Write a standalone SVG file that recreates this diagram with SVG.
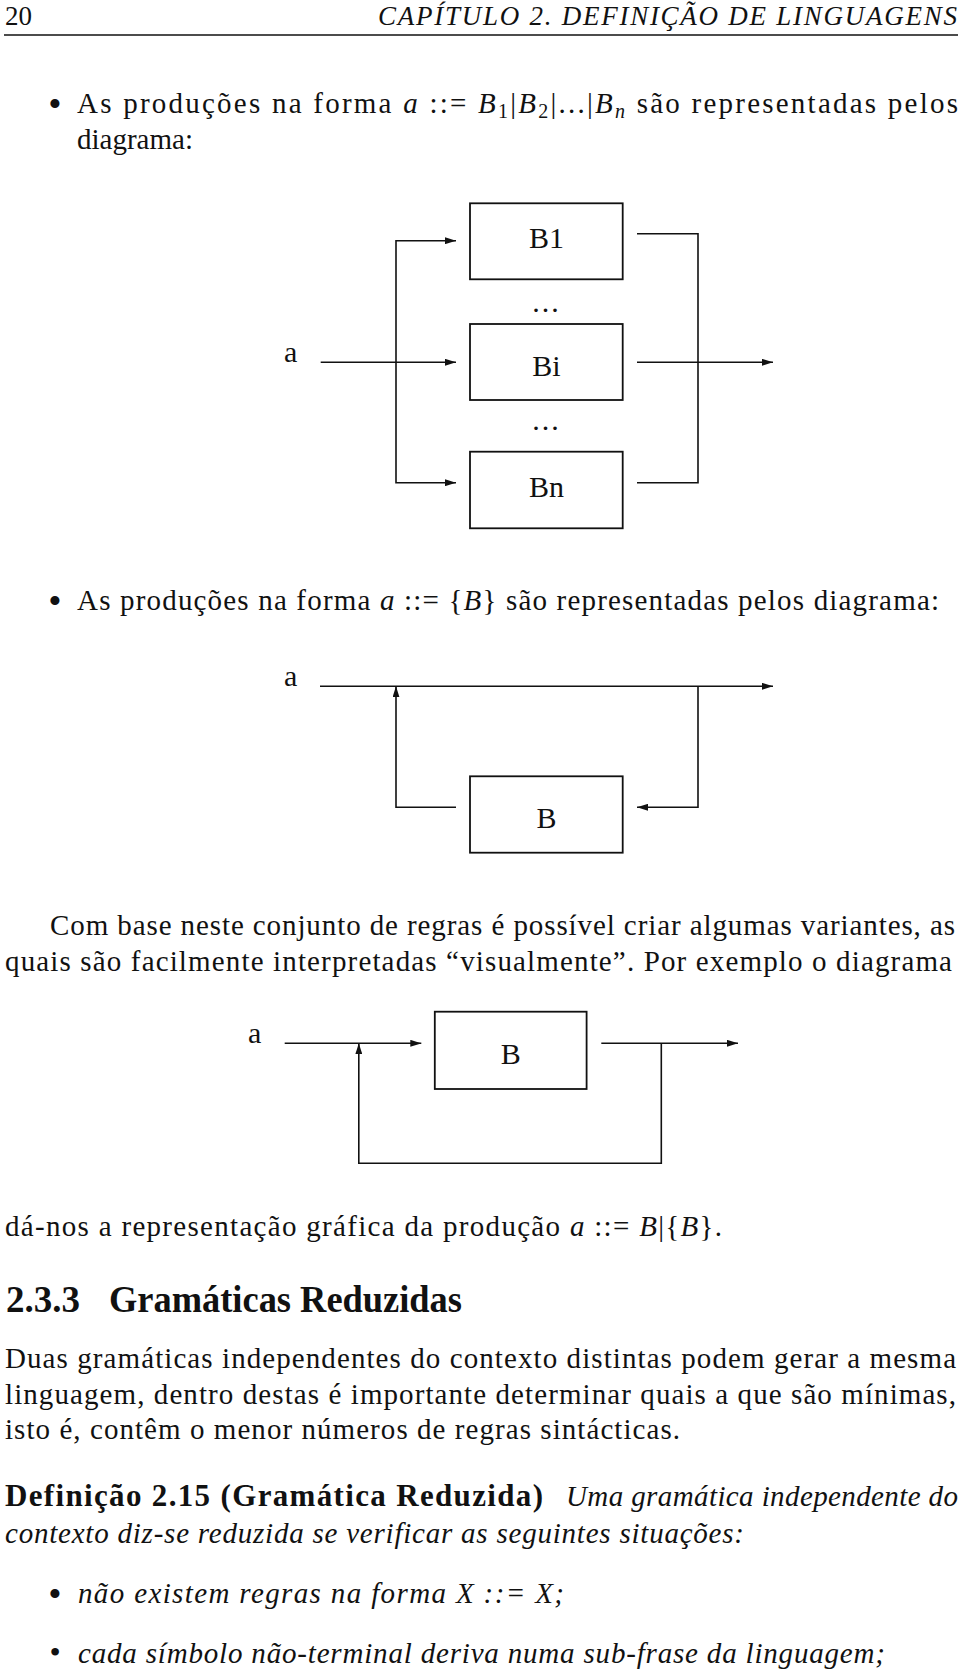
<svg xmlns="http://www.w3.org/2000/svg" width="960" height="1670" viewBox="0 0 960 1670">
<style>
text{font-family:"Liberation Serif","Times New Roman",serif;fill:#111;font-size:29px}
.it{font-style:italic}
.bf{font-weight:bold}
.hd{font-size:27px}
.h2{font-size:37px}
.df{font-size:31px}
.lbl{font-size:30px}
.dots{font-size:30px;letter-spacing:2px}
.bul{font-size:38px}
.bul2{font-size:32px}
.box{fill:#fff;stroke:#111;stroke-width:1.8}
.ln{fill:none;stroke:#111;stroke-width:1.6}
.sub{font-size:20px}
</style>
<defs>
<marker id="arr" markerUnits="userSpaceOnUse" markerWidth="11" markerHeight="7" refX="11" refY="3.5" orient="auto">
<path d="M0,0 L11,3.5 L0,7 z" fill="#111"/>
</marker>
</defs>
<rect width="960" height="1670" fill="#fff"/>

<g id="header">
<text x="5" y="25" class="hd">20</text>
<text x="378" y="25" class="it hd" textLength="579" lengthAdjust="spacing">CAPÍTULO 2.  DEFINIÇÃO DE LINGUAGENS</text>
<line x1="4" y1="35" x2="958" y2="35" stroke="#111" stroke-width="1.5"/>
</g>

<g id="bullet1-text">
<text x="55" y="117" text-anchor="middle" class="bul">•</text>
<text x="77" y="113" textLength="881" lengthAdjust="spacing">As produções na forma <tspan class="it">a</tspan> ::= <tspan class="it">B</tspan><tspan class="sub" dy="5">1</tspan><tspan dy="-5">|</tspan><tspan class="it">B</tspan><tspan class="sub" dy="5">2</tspan><tspan dy="-5">|...|</tspan><tspan class="it">B</tspan><tspan class="sub it" dy="5">n</tspan><tspan dy="-5"> são representadas pelos</tspan></text>
<text x="77" y="149">diagrama:</text>
</g>

<g id="diagram1">
<g id="d1-a"><text x="284" y="362" class="lbl">a</text></g>
<g id="d1-B1"><rect class="box" x="470" y="203.3" width="152.7" height="76"/><text x="546.5" y="248" class="lbl" text-anchor="middle">B1</text></g>
<g id="d1-dots1"><text x="546.5" y="312" class="dots" text-anchor="middle">...</text></g>
<g id="d1-Bi"><rect class="box" x="470" y="324" width="152.7" height="76"/><text x="546.5" y="376" class="lbl" text-anchor="middle">Bi</text></g>
<g id="d1-dots2"><text x="546.5" y="430" class="dots" text-anchor="middle">...</text></g>
<g id="d1-Bn"><rect class="box" x="470" y="451.7" width="152.7" height="76.6"/><text x="546.5" y="496.5" class="lbl" text-anchor="middle">Bn</text></g>
</g>

<g id="bullet2-text">
<text x="55" y="614" text-anchor="middle" class="bul">•</text>
<text x="77" y="610" textLength="862" lengthAdjust="spacing">As produções na forma <tspan class="it">a</tspan> ::= {<tspan class="it">B</tspan>} são representadas pelos diagrama:</text>
</g>

<g id="diagram2">
<g id="d2-a"><text x="284" y="686" class="lbl">a</text></g>
<g id="d2-B"><rect class="box" x="470" y="776.3" width="152.7" height="76.4"/><text x="546.5" y="828" class="lbl" text-anchor="middle">B</text></g>
</g>

<g id="paragraph1">
<text x="50" y="935" textLength="905" lengthAdjust="spacing">Com base neste conjunto de regras é possível criar algumas variantes, as</text>
<text x="5" y="971" textLength="947" lengthAdjust="spacing">quais são facilmente interpretadas “visualmente”. Por exemplo o diagrama</text>
</g>

<g id="diagram3">
<g id="d3-a"><text x="248" y="1043" class="lbl">a</text></g>
<g id="d3-B"><rect class="box" x="434.8" y="1011.7" width="151.8" height="77.3"/><text x="510.7" y="1064" class="lbl" text-anchor="middle">B</text></g>
</g>

<g id="paragraph2">
<text x="5" y="1236" textLength="717" lengthAdjust="spacing">dá-nos a representação gráfica da produção <tspan class="it">a</tspan> ::= <tspan class="it">B</tspan>|{<tspan class="it">B</tspan>}.</text>
</g>

<g id="section">
<text x="6" y="1312" class="bf h2">2.3.3</text>
<text x="109" y="1312" class="bf h2" textLength="353" lengthAdjust="spacingAndGlyphs">Gramáticas Reduzidas</text>
<text x="5" y="1368" textLength="951" lengthAdjust="spacing">Duas gramáticas independentes do contexto distintas podem gerar a mesma</text>
<text x="5" y="1404" textLength="951" lengthAdjust="spacing">linguagem, dentro destas é importante determinar quais a que são mínimas,</text>
<text x="5" y="1439" textLength="675" lengthAdjust="spacing">isto é, contêm o menor números de regras sintácticas.</text>
</g>

<g id="definition">
<text x="5" y="1506" class="bf df" textLength="538" lengthAdjust="spacing">Definição 2.15 (Gramática Reduzida)</text>
<text x="566" y="1506" class="it" textLength="392" lengthAdjust="spacing">Uma gramática independente do</text>
<text x="5" y="1543" class="it" textLength="739" lengthAdjust="spacing">contexto diz-se reduzida se verificar as seguintes situações:</text>
<text x="55" y="1607" text-anchor="middle" class="bul">•</text>
<text x="78" y="1603" class="it" textLength="486" lengthAdjust="spacing">não existem regras na forma X ::= X;</text>
<text x="55" y="1663" text-anchor="middle" class="bul2">•</text>
<text x="78" y="1663" class="it" textLength="807" lengthAdjust="spacing">cada símbolo não-terminal deriva numa sub-frase da linguagem;</text>
</g>

<g id="connectors">
<path class="ln" d="M320.7,362.3 H456" marker-end="url(#arr)"/>
<path class="ln" d="M396,362.3 V240.7 H456" marker-end="url(#arr)"/>
<path class="ln" d="M396,362.3 V482.7 H456" marker-end="url(#arr)"/>
<path class="ln" d="M637,233.7 H698 V482.7 H637"/>
<path class="ln" d="M637,362.3 H773" marker-end="url(#arr)"/>
<path class="ln" d="M320,686.3 H773" marker-end="url(#arr)"/>
<path class="ln" d="M456,807.3 H396 V686.3" marker-end="url(#arr)"/>
<path class="ln" d="M698,686.3 V807.3 H637" marker-end="url(#arr)"/>
<path class="ln" d="M284.7,1043.3 H421.3" marker-end="url(#arr)"/>
<path class="ln" d="M601.3,1043.3 H738" marker-end="url(#arr)"/>
<path class="ln" d="M661.3,1043.3 V1163.3 H358.8 V1043.3" marker-end="url(#arr)"/>
</g>
</svg>
